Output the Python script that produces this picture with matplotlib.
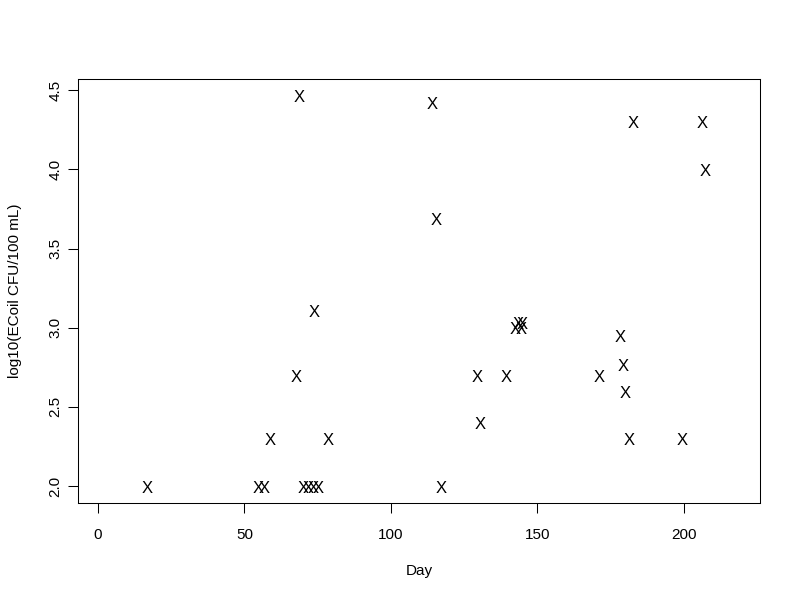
import matplotlib
matplotlib.use("Agg")
import matplotlib.pyplot as plt
import matplotlib.transforms as mtransforms

plt.rcParams['font.family'] = ['Liberation Sans', 'DejaVu Sans']

# day of sample, log10 E. coli count
day = [16.4, 54.3, 56.3, 58.4, 67.2, 68.3, 69.6, 71.3, 73.0, 73.4, 74.7, 78.2,
       113.7, 115.0, 117.0, 129.0, 130.0, 139.0, 142.0, 143.0, 144.0, 144.4,
       170.6, 177.8, 178.8, 179.8, 180.9, 182.3, 199.0, 205.8, 206.8]
logcfu = [2.0, 2.0, 2.0, 2.3, 2.7, 4.47, 2.0, 2.0, 2.0, 3.11, 2.0, 2.3,
          4.42, 3.69, 2.0, 2.7, 2.4, 2.7, 3.0, 3.03, 3.0, 3.03,
          2.7, 2.95, 2.77, 2.6, 2.3, 4.3, 2.3, 4.3, 4.0]

xticks = [0, 50, 100, 150, 200]
yticks = [2.0, 2.5, 3.0, 3.5, 4.0, 4.5]

fig = plt.figure(figsize=(8, 6), dpi=100)
ax = fig.add_axes([0.0975, 0.1617, 0.8525, 0.7063])

# nudge glyphs so the X is centred on the point like R's pch="X"
shift = ax.transData + mtransforms.ScaledTranslation(1 / 100, -2 / 100, fig.dpi_scale_trans)
for x, y in zip(day, logcfu):
    ax.text(x, y, 'X', ha='center', va='center', fontsize=12, transform=shift)

ax.set_xlim(-6.8, 226)
ax.set_ylim(1.893, 4.57)
ax.set_xticks(xticks)
ax.set_xticklabels([str(t) for t in xticks])
ax.set_yticks(yticks)
ax.set_yticklabels(['%.1f' % t for t in yticks])
for lab in ax.get_yticklabels():
    lab.set_rotation(90)
    lab.set_va('center')

ax.tick_params(direction='out', length=7.2, width=0.75, labelsize=11)
ax.tick_params(axis='x', pad=11)
ax.tick_params(axis='y', pad=4)
for s in ax.spines.values():
    s.set_linewidth(0.75)

ax.set_xlabel('Day', fontsize=11)
ax.set_ylabel('log10(ECoil CFU/100 mL)', fontsize=11)
ax.xaxis.set_label_coords(0.5, -0.145)
ax.yaxis.set_label_coords(-0.082, 0.5)

fig.savefig('out.png', dpi=100)
